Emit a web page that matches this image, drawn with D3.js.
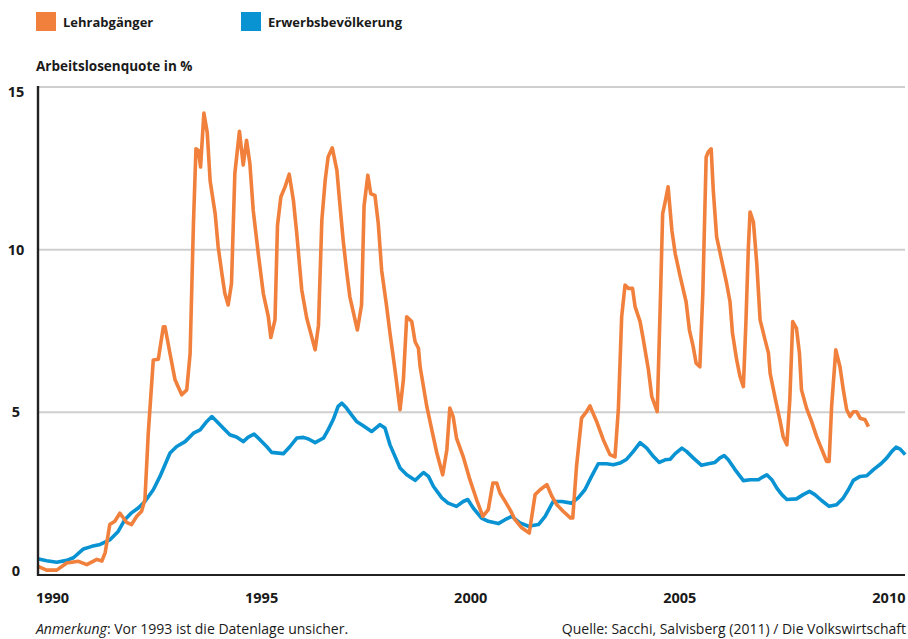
<!DOCTYPE html>
<html>
<head>
<meta charset="utf-8">
<script src="https://cdn.jsdelivr.net/npm/d3@7"></script>
<style>
  body { margin: 0; background: #fff; }
  text { font-family: "Open Sans", "Noto Sans", sans-serif; fill: #1a1a1a; }
  .bold { font-weight: 700; }
</style>
</head>
<body>
<div id="chart"></div>
<script>
// Lehrabgänger (school leavers), year as decimal, rate in %
var lehrYears = [1990.14,1990.36,1990.60,1990.84,1991.12,1991.32,1991.56,1991.68,1991.76,1991.87,1991.99,1992.11,1992.27,1992.39,1992.51,1992.63,1992.71,1992.79,1992.91,1993.03,1993.15,1993.19,1993.31,1993.43,1993.59,1993.71,1993.79,1993.87,1993.93,1993.99,1994.04,1994.12,1994.20,1994.27,1994.39,1994.46,1994.55,1994.62,1994.70,1994.78,1994.86,1994.97,1995.06,1995.14,1995.22,1995.30,1995.42,1995.54,1995.66,1995.72,1995.82,1995.88,1995.96,1996.06,1996.16,1996.26,1996.34,1996.46,1996.58,1996.78,1996.86,1996.94,1997.02,1997.09,1997.19,1997.30,1997.37,1997.45,1997.53,1997.61,1997.79,1997.89,1997.95,1998.04,1998.11,1998.21,1998.29,1998.37,1998.49,1998.57,1998.69,1998.81,1998.89,1998.97,1999.09,1999.17,1999.25,1999.29,1999.45,1999.57,1999.69,1999.83,1999.93,2000.00,2000.08,2000.16,2000.32,2000.48,2000.64,2000.79,2000.92,2001.03,2001.12,2001.20,2001.32,2001.44,2001.56,2001.72,2001.90,2002.04,2002.16,2002.32,2002.44,2002.56,2002.71,2002.89,2002.94,2003.03,2003.15,2003.27,2003.35,2003.51,2003.67,2003.83,2003.95,2004.03,2004.11,2004.19,2004.27,2004.37,2004.43,2004.55,2004.63,2004.75,2004.83,2004.96,2005.04,2005.09,2005.15,2005.22,2005.31,2005.39,2005.51,2005.65,2005.73,2005.82,2005.89,2005.98,2006.05,2006.13,2006.18,2006.25,2006.30,2006.38,2006.50,2006.62,2006.70,2006.76,2006.86,2006.94,2007.02,2007.08,2007.14,2007.18,2007.26,2007.34,2007.42,2007.54,2007.62,2007.66,2007.78,2007.90,2007.97,2008.06,2008.13,2008.20,2008.29,2008.36,2008.41,2008.53,2008.65,2008.77,2008.85,2008.93,2009.01,2009.07,2009.13,2009.23,2009.33,2009.41,2009.49,2009.57,2009.65,2009.73,2009.81,2009.93,2010.01];
var lehrValues = [0.27,0.15,0.15,0.37,0.42,0.32,0.48,0.43,0.69,1.55,1.65,1.9,1.62,1.55,1.8,1.96,2.32,4.36,6.61,6.63,7.63,7.63,6.8,6.0,5.54,5.69,6.8,10.8,13.1,13.05,12.54,14.2,13.6,12.1,11.1,10.1,9.27,8.66,8.3,8.96,12.34,13.64,12.6,13.36,12.64,11.2,9.88,8.66,7.94,7.3,7.84,10.75,11.62,11.93,12.32,11.52,10.5,8.76,7.89,6.92,7.68,10.9,12.13,12.85,13.13,12.44,11.42,10.29,9.37,8.55,7.53,8.3,11.34,12.29,11.72,11.67,10.8,9.37,8.25,7.43,6.3,5.08,6.0,7.94,7.79,7.17,6.97,6.4,5.18,4.46,3.75,3.08,3.85,5.13,4.87,4.21,3.64,2.93,2.32,1.8,2.01,2.83,2.83,2.52,2.27,2.01,1.7,1.45,1.29,2.47,2.62,2.78,2.42,2.16,1.96,1.75,1.75,3.34,4.82,5.02,5.2,4.72,4.16,3.7,3.63,5.08,7.94,8.91,8.81,8.81,8.25,7.79,7.22,6.3,5.48,5.02,8.66,11.11,11.47,11.93,10.6,9.88,9.17,8.4,7.53,7.02,6.51,6.4,8.66,12.85,13.0,13.1,11.83,10.39,9.68,8.96,8.4,7.43,6.61,6.1,5.79,7.74,10.09,11.16,10.85,9.58,7.84,7.22,6.82,6.2,5.44,4.72,4.26,4.0,5.38,7.79,7.58,6.82,5.69,5.13,4.72,4.26,4.0,3.75,3.49,3.49,5.18,6.92,6.4,5.69,5.08,4.87,5.02,5.02,4.82,4.77,4.56];

// Erwerbsbevölkerung (labour force)
var erwYears = [1990.14,1990.36,1990.60,1990.84,1991.00,1991.24,1991.44,1991.64,1991.88,1992.07,1992.23,1992.39,1992.55,1992.71,1992.91,1993.07,1993.31,1993.47,1993.67,1993.87,1994.03,1994.19,1994.31,1994.43,1994.58,1994.74,1994.90,1995.06,1995.18,1995.32,1995.46,1995.62,1995.74,1996.02,1996.18,1996.34,1996.50,1996.62,1996.78,1996.98,1997.09,1997.21,1997.33,1997.42,1997.53,1997.65,1997.77,1997.93,1998.13,1998.33,1998.45,1998.57,1998.81,1998.97,1999.17,1999.37,1999.49,1999.61,1999.81,1999.96,2000.16,2000.32,2000.43,2000.56,2000.76,2000.92,2001.16,2001.32,2001.48,2001.68,2001.88,2002.12,2002.28,2002.47,2002.68,2002.91,2003.07,2003.23,2003.39,2003.55,2003.75,2003.91,2004.07,2004.23,2004.39,2004.55,2004.71,2004.87,2005.01,2005.15,2005.27,2005.39,2005.55,2005.66,2005.82,2006.02,2006.18,2006.34,2006.46,2006.56,2006.66,2006.82,2007.02,2007.18,2007.38,2007.48,2007.58,2007.70,2007.82,2007.94,2008.06,2008.29,2008.45,2008.60,2008.73,2008.89,2009.07,2009.25,2009.41,2009.53,2009.65,2009.81,2009.97,2010.13,2010.31,2010.45,2010.57,2010.67,2010.77,2010.89];
var erwValues = [0.5,0.44,0.39,0.45,0.53,0.8,0.88,0.94,1.09,1.34,1.7,1.91,2.06,2.26,2.62,3.03,3.75,3.95,4.1,4.36,4.46,4.72,4.87,4.72,4.52,4.31,4.24,4.1,4.24,4.33,4.16,3.95,3.77,3.73,3.95,4.21,4.23,4.18,4.07,4.21,4.46,4.77,5.18,5.28,5.13,4.92,4.72,4.59,4.41,4.62,4.52,4.0,3.29,3.08,2.91,3.15,3.03,2.72,2.37,2.21,2.11,2.26,2.32,2.06,1.75,1.65,1.58,1.7,1.8,1.6,1.5,1.55,1.8,2.26,2.26,2.21,2.37,2.62,3.03,3.42,3.42,3.39,3.44,3.56,3.8,4.07,3.9,3.64,3.46,3.54,3.56,3.73,3.9,3.8,3.6,3.37,3.42,3.46,3.6,3.67,3.54,3.24,2.9,2.93,2.93,3.01,3.08,2.93,2.67,2.47,2.32,2.34,2.47,2.57,2.47,2.29,2.11,2.16,2.37,2.62,2.91,3.03,3.05,3.24,3.42,3.6,3.8,3.93,3.87,3.7];

var yearTicks = [1990, 1995, 2000, 2005, 2010];
var valueTicks = [0, 5, 10, 15];

var width = 908, height = 639;
var plotLeft = 38, plotRight = 905, plotTop = 87, plotBottom = 575;
var orange = "#F0803C", blue = "#0993D3";

var svg = d3.select("#chart").append("svg")
    .attr("width", width)
    .attr("height", height);

// one year per 41.8px, the year labels sit in the middle of each year
var x = d3.scaleLinear()
    .domain([1990, 2011])
    .range([31.6, 31.6 + 21 * 41.82]);

var y = d3.scaleLinear()
    .domain([0, 15])
    .range([plotBottom, plotTop]);

// gridlines
svg.selectAll(".grid")
    .data(valueTicks.filter(function(d){ return d > 0; }))
    .enter().append("line")
    .attr("x1", plotLeft).attr("x2", plotRight)
    .attr("y1", function(d){ return y(d); })
    .attr("y2", function(d){ return y(d); })
    .style("stroke", "#cfcfcf")
    .style("stroke-width", 2);

// y labels
svg.selectAll(".ylab")
    .data(valueTicks)
    .enter().append("text")
    .attr("class", "bold")
    .attr("x", 16)
    .attr("y", function(d){
        if (d == 15) return y(d) + 10;
        if (d == 0) return y(d) + 1;
        return y(d) + 5;
    })
    .attr("text-anchor", "middle")
    .style("font-size", "14.5px")
    .text(function(d){ return d; });

// x labels
svg.selectAll(".xlab")
    .data(yearTicks)
    .enter().append("text")
    .attr("class", "bold")
    .attr("x", function(d){ return x(d + 0.5); })
    .attr("y", 603)
    .attr("text-anchor", "middle")
    .style("font-size", "14.5px")
    .text(function(d){ return d; });

var line = d3.line()
    .x(function(d){ return x(d[0]); })
    .y(function(d){ return y(d[1]); });

var lehr = d3.zip(lehrYears, lehrValues);
var erw = d3.zip(erwYears, erwValues);

svg.append("path")
    .datum(erw)
    .attr("d", line)
    .style("fill", "none")
    .style("stroke", blue)
    .style("stroke-width", 3.6)
    .style("stroke-linejoin", "round");

svg.append("path")
    .datum(lehr)
    .attr("d", line)
    .style("fill", "none")
    .style("stroke", orange)
    .style("stroke-width", 3.6)
    .style("stroke-linejoin", "round");

// axes lines
svg.append("line")
    .attr("x1", plotLeft).attr("x2", plotRight)
    .attr("y1", plotBottom).attr("y2", plotBottom)
    .style("stroke", "#222").style("stroke-width", 2.2);

svg.append("line")
    .attr("x1", plotLeft).attr("x2", plotLeft)
    .attr("y1", plotTop - 1).attr("y2", plotBottom + 1)
    .style("stroke", "#222").style("stroke-width", 2.4);

// legend
var legend = [["Lehrabgänger", orange, 36], ["Erwerbsbevölkerung", blue, 241]];
legend.forEach(function(l){
    svg.append("rect")
        .attr("x", l[2]).attr("y", 12)
        .attr("width", 20).attr("height", 19)
        .style("fill", l[1]);
    svg.append("text")
        .attr("class", "bold")
        .attr("x", l[2] + 27).attr("y", 27)
        .style("font-size", "13px")
        .text(l[0]);
});

svg.append("text")
    .attr("class", "bold")
    .attr("x", 36).attr("y", 71)
    .style("font-size", "13.5px")
    .text("Arbeitslosenquote in %");

var note = svg.append("text")
    .attr("x", 36).attr("y", 634)
    .style("font-size", "14px");
note.append("tspan").style("font-style", "italic").text("Anmerkung");
note.append("tspan").text(": Vor 1993 ist die Datenlage unsicher.");

svg.append("text")
    .attr("x", 906).attr("y", 634)
    .attr("text-anchor", "end")
    .style("font-size", "14px")
    .text("Quelle: Sacchi, Salvisberg (2011) / Die Volkswirtschaft");
</script>
</body>
</html>
